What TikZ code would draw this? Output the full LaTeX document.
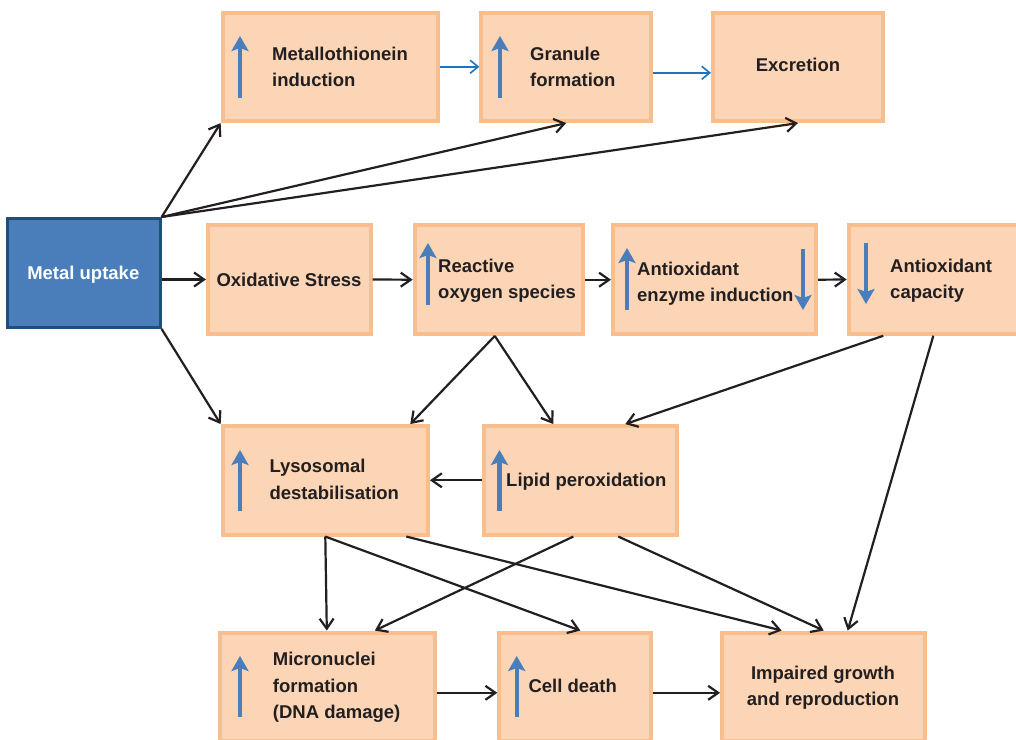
\documentclass[tikz,border=0pt]{standalone}
\usepackage{fontspec}
\setmainfont{Liberation Sans}
\usetikzlibrary{arrows.meta}
\definecolor{peach}{HTML}{FBD5B5}
\definecolor{peachline}{HTML}{F9BE8E}
\definecolor{mublue}{HTML}{4A7EBB}
\definecolor{mudark}{HTML}{1F4E79}
\definecolor{upblue}{HTML}{4A7EBB}
\definecolor{linkblue}{HTML}{1F73BE}
\definecolor{ink}{HTML}{231F20}
\newcommand{\rowsl}[1]{\begin{tabular}[t]{@{}l@{}}#1\end{tabular}}
\newcommand{\rowsc}[1]{\begin{tabular}[t]{@{}c@{}}#1\end{tabular}}
\begin{document}
\begin{tikzpicture}[x=1pt,y=-1pt,
  box/.style={draw=peachline, fill=peach, line width=4pt, outer sep=2pt, inner sep=0pt, minimum height=108.5pt},
  ubox/.style={draw=mudark, fill=mublue, line width=3pt, outer sep=1.5pt, inner sep=0pt, minimum height=109pt},
  lbl/.style={inner sep=0pt, text=ink, font=\fontsize{18.5}{26.5}\selectfont\bfseries},
  link/.style={draw=ink, line width=2.2pt, -{Straight Barb[length=10pt,width=14pt]}},
  blink/.style={draw=linkblue, line width=1.6pt, -{Straight Barb[length=8pt,width=13pt]}},
  updown/.style={draw=upblue, line width=4.2pt, -{Stealth[length=15pt,width=17pt,inset=3pt]}}
]
\useasboundingbox (0,0) rectangle (1016,739);
\clip (0,0) rectangle (1016,739);

% boxes
\node[ubox, minimum width=152.7pt] (mu) at (83.8,273) {};
\node[box, minimum width=215.3pt] (mt) at (330.3,66.8) {};
\node[box, minimum width=169.7pt] (gr) at (566.2,66.8) {};
\node[box, minimum width=170pt] (ex) at (798,66.8) {};
\node[box, minimum width=162.7pt] (os) at (289.3,279.5) {};
\node[box, minimum width=168.3pt] (ros) at (498.8,279.7) {};
\node[box, minimum width=203pt] (ae) at (714.5,279.7) {};
\node[box, minimum width=169.3pt] (ac) at (933.3,279.5) {};
\node[box, minimum width=205.3pt] (ly) at (325.3,480.3) {};
\node[box, minimum width=193.3pt] (lp) at (580.3,480.3) {};
\node[box, minimum width=215pt] (mn) at (327.8,686.8) {};
\node[box, minimum width=152pt] (cd) at (575.3,686.8) {};
\node[box, minimum width=203.3pt] (ig) at (823.7,686.8) {};

% blue up/down arrows inside boxes
\draw[updown] (240,98) -- (240,36);
\draw[updown] (500,98) -- (500,36);
\draw[updown] (428,305) -- (428,243);
\draw[updown] (627,310) -- (627,248);
\draw[updown] (803,249) -- (803,310);
\draw[updown] (866,243) -- (866,304);
\draw[updown] (240,511) -- (240,450);
\draw[updown] (499.5,511) -- (499.5,450);
\draw[updown] (240,717) -- (240,656);
\draw[updown] (516.7,717) -- (516.7,656);

% labels
\node[lbl, anchor=base west] (mtT) at (272,60) {\rowsl{Metallothionein\\induction}};
\node[lbl, anchor=base west] (grT) at (530,60) {\rowsl{Granule\\formation}};
\node[lbl, anchor=base] (exT) at (798,71.5) {Excretion};
\node[lbl, anchor=base, text=white] (muT) at (83.3,279) {Metal uptake};
\node[lbl, anchor=base] (osT) at (289,286) {Oxidative Stress};
\node[lbl, anchor=base west] (rosT) at (438,272.3) {\rowsl{Reactive\\oxygen species}};
\node[lbl, anchor=base west] (aeT) at (637,275) {\rowsl{Antioxidant\\enzyme induction}};
\node[lbl, anchor=base west] (acT) at (890,272.3) {\rowsl{Antioxidant\\capacity}};
\node[lbl, anchor=base west] (lyT) at (269.3,472.7) {\rowsl{Lysosomal\\destabilisation}};
\node[lbl, anchor=base west] (lpT) at (506,486) {Lipid peroxidation};
\node[lbl, anchor=base west] (mnT) at (272.7,665.7) {\rowsl{Micronuclei\\formation\\(DNA damage)}};
\node[lbl, anchor=base west] (cdT) at (528.3,692.5) {Cell death};
\node[lbl, anchor=base] (igT) at (823,679) {\rowsc{Impaired growth\\and reproduction}};

% blue connectors
\draw[blink] (mt.east) -- (gr.west);
\draw[blink] ([yshift=-6pt]gr.east) -- ([yshift=-6pt]ex.west);

% black connectors
\draw[link] (mu.north east) -- (mt.south west);
\draw[link] (mu.north east) -- (gr.south);
\draw[link] (mu.north east) -- (ex.south);
\draw[link] (mu.east |- os.west) -- (os.west);
\draw[link] (os.east) -- (ros.west);
\draw[link] (ros.east) -- (ae.west);
\draw[link] (ae.east) -- (ac.west);
\draw[link] (mu.south east) -- (ly.north west);
\draw[link] ([xshift=-4pt]ros.south) -- ([xshift=85pt]ly.north);
\draw[link] ([xshift=-4pt]ros.south) -- ([xshift=-27pt]lp.north);
\draw[link] ([xshift=-50pt]ac.south) -- ([xshift=45pt]lp.north);
\draw[link] (ac.south) -- ([xshift=24pt]ig.north);
\draw[link] (lp.west) -- (ly.east);
\draw[link] (ly.south) -- ([xshift=-1pt]mn.north);
\draw[link] (ly.south) -- ([xshift=5pt]cd.north);
\draw[link] ([xshift=81pt]ly.south) -- ([xshift=-42pt]ig.north);
\draw[link] ([xshift=-7pt]lp.south) -- ([xshift=47pt]mn.north);
\draw[link] ([xshift=38pt]lp.south) -- (ig.north);
\draw[link] ([yshift=-6pt]mn.east) -- ([yshift=-6pt]cd.west);
\draw[link] ([yshift=-6pt]cd.east) -- ([yshift=-6pt]ig.west);
\end{tikzpicture}
\end{document}
